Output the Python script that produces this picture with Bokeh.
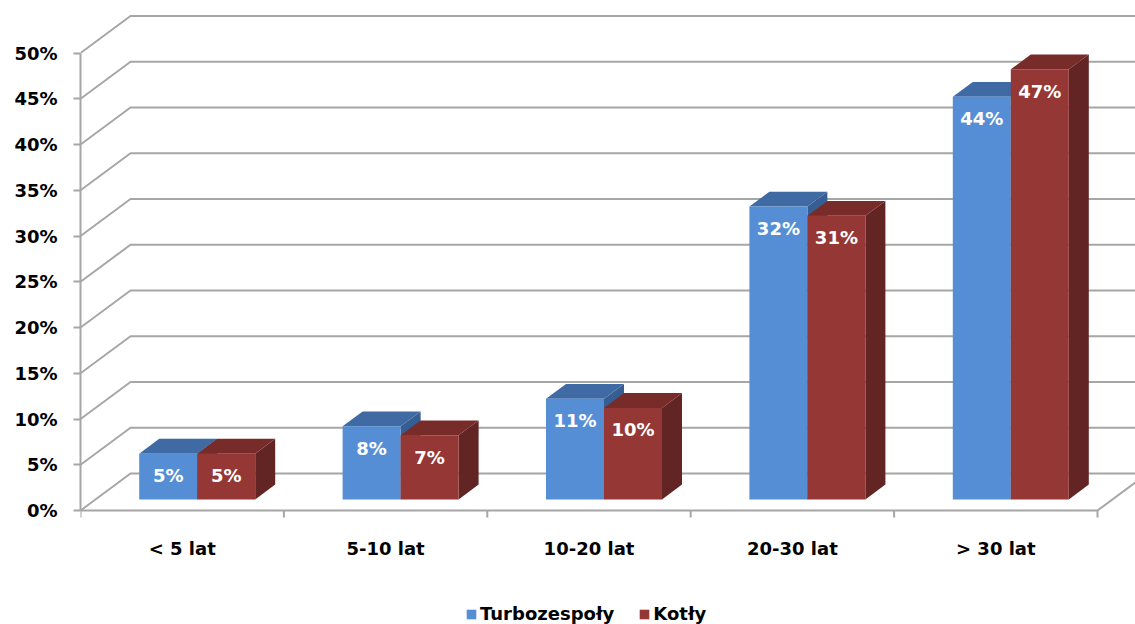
from bokeh.plotting import figure
from bokeh.models import (Range1d, FixedTicker, PrintfTickFormatter, ColumnDataSource,
                          Legend, LegendItem)
from bokeh.core.properties import value
from bokeh.embed import file_html
from bokeh.resources import INLINE

# ---- data ----
categories = ["< 5 lat", "5-10 lat", "10-20 lat", "20-30 lat", "> 30 lat"]
series_names = ["Turbozespoły", "Kotły"]
turbozespoly = [5, 8, 11, 32, 44]
kotly = [5, 7, 10, 31, 47]
y_ticks = [0, 5, 10, 15, 20, 25, 30, 35, 40, 45, 50]

# ---- geometry / style ----
W, H = 1135, 624
X0 = 80            # front axis pixel x
Y0 = 510           # pixel y of 0% on front plane
PX = 9.15          # pixels per percent
N = len(categories)
X1 = 1097          # end of floor front edge
CW = (X1 - X0) / N
DX, DY = 50, 37    # depth offset of the back wall (px)
BW = 58            # bar width (px)
D0, D1 = 0.3, 0.7  # bar depth fraction
FONT = "DejaVu Sans"
GRID = "#A6A6A6"
cols_front = ["#558ED5", "#953735"]
cols_top = ["#3F6AA3", "#772C2A"]
cols_side = ["#375E92", "#632523"]

def py(px):  # pixel distance -> data units
    return px / PX

p = figure(width=W, height=H, output_backend="svg", toolbar_location=None,
           x_range=Range1d(X0, W), y_range=Range1d(-(H - Y0) / PX, Y0 / PX),
           min_border_left=X0, min_border_right=0, min_border_top=0, min_border_bottom=0)
p.outline_line_color = None
p.xgrid.visible = False
p.ygrid.visible = False
p.xaxis.visible = False
p.background_fill_color = "white"
p.border_fill_color = "white"

ax = p.yaxis[0]
ax.ticker = FixedTicker(ticks=y_ticks)
ax.bounds = (y_ticks[0], y_ticks[-1])
ax.formatter = PrintfTickFormatter(format="%d%%")
ax.axis_line_color = GRID
ax.axis_line_width = 2
ax.major_tick_line_color = GRID
ax.major_tick_line_width = 2
ax.major_tick_out = 7
ax.major_tick_in = 0
ax.minor_tick_line_color = None
ax.major_label_standoff = 16
ax.major_label_text_font = FONT
ax.major_label_text_font_style = "bold"
ax.major_label_text_font_size = "18px"
ax.major_label_text_color = "black"

# back wall gridlines (with diagonal from front axis)
gx, gy = [], []
for t in y_ticks:
    gx.append([X0, X0 + DX, W + 10])
    gy.append([t, t + py(DY), t + py(DY)])
p.multi_line(gx, gy, line_color=GRID, line_width=2)

# floor front and right edges
p.line([X0, X1, X1 + DX], [0, 0, py(DY)], line_color=GRID, line_width=2)
# floor ticks
tx = [[X0 + i * CW, X0 + i * CW] for i in range(N + 1)]
ty = [[0, -py(7)] for _ in range(N + 1)]
p.multi_line(tx, ty, line_color=GRID, line_width=2)

# bars
ddx = (D1 - D0) * DX
ddy = py((D1 - D0) * DY)
b0 = py(D0 * DY)
front_renderers = []
for j, vals in enumerate([turbozespoly, kotly]):
    lefts, rights, tops = [], [], []
    top_xs, top_ys, side_xs, side_ys = [], [], [], []
    lx, ly, lt = [], [], []
    for i, v in enumerate(vals):
        xl = X0 + i * CW + (CW - 2 * BW) / 2 + D0 * DX + j * BW
        xr = xl + BW
        top = b0 + v
        lefts.append(xl); rights.append(xr); tops.append(top)
        top_xs.append([xl, xr, xr + ddx, xl + ddx])
        top_ys.append([top, top, top + ddy, top + ddy])
        side_xs.append([xr, xr + ddx, xr + ddx, xr])
        side_ys.append([b0, b0 + ddy, top + ddy, top])
        lx.append((xl + xr) / 2)
        ly.append(top - py(22))
        lt.append(f"{v}%")
    p.patches(side_xs, side_ys, fill_color=cols_side[j], line_color=None)
    p.patches(top_xs, top_ys, fill_color=cols_top[j], line_color=None)
    r = p.quad(left=lefts, right=rights, bottom=[b0] * N, top=tops,
               fill_color=cols_front[j], line_color=None)
    front_renderers.append(r)
    src = ColumnDataSource(dict(x=lx, y=ly, t=lt))
    p.text(x="x", y="y", text="t", source=src, text_color="white",
           text_font=value(FONT), text_font_style="bold", text_font_size="18px",
           text_align="center", text_baseline="middle")

# category labels
cx = [X0 + (i + 0.5) * CW for i in range(N)]
p.text(x=cx, y=[-py(38)] * N, text=categories, text_color="black",
       text_font=value(FONT), text_font_style="bold", text_font_size="18px",
       text_align="center", text_baseline="middle")

legend = Legend(items=[LegendItem(label=series_names[k], renderers=[front_renderers[k]])
                       for k in range(2)],
                orientation="horizontal", location=(385, 0),
                glyph_width=12, glyph_height=12, label_standoff=3, spacing=24,
                padding=0, margin=0, background_fill_alpha=0, border_line_color=None,
                label_text_font=FONT, label_text_font_style="bold",
                label_text_font_size="18px", label_text_color="black")
p.add_layout(legend)

open("out.html", "w").write(file_html(p, INLINE))
